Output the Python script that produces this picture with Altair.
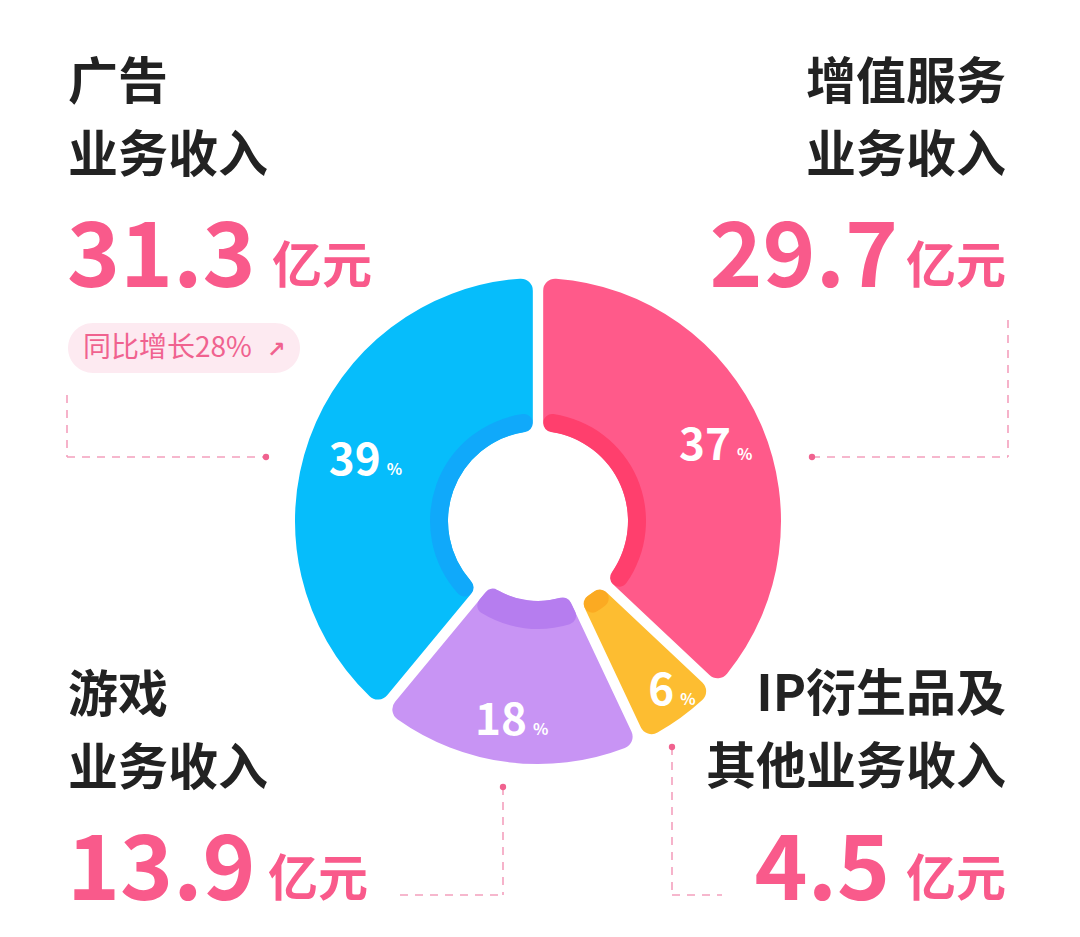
import altair as alt
import pandas as pd

# donut slices, clockwise from 12 o'clock
segments = ["增值服务", "IP衍生品及其他", "游戏", "广告"]
shares = [37, 6, 18, 39]
revenue = [29.7, 4.5, 13.9, 31.3]
titles = [["增值服务", "业务收入"], ["IP衍生品及", "其他业务收入"], ["游戏", "业务收入"], ["广告", "业务收入"]]
growth_text = "同比增长28%"
unit = "亿元"

main_colors = ["#FF5A8A", "#FDBD31", "#C894F4", "#06BDFB"]
band_colors = ["#FF3F6D", "#FBAA22", "#B67DEF", "#10A9FA"]

FONT = "Noto Sans CJK SC"
PINK = "#F95A8B"
INK = "#222222"
DASH = "#F4A0BD"

W, H = 1064, 921
CX, CY = 530, 513  # donut centre (view coords)


def P(v):
    # page pixel -> view pixel (8px page margin)
    return v - 8


df = pd.DataFrame({"name": segments, "share": shares, "rank": list(range(len(segments)))})
one = pd.DataFrame({"k": [0]})

base = alt.Chart(df).transform_calculate(
    r_out="243",
    r_band="108",
    r_in="datum.name === '游戏' ? 80 : 90",
    r_lab="{'增值服务': 195, 'IP衍生品及其他': 208, '游戏': 200, '广告': 182}[datum.name]",
)

theta_scale = alt.Scale(domain=[0, 100])
theta = alt.Theta("share:Q", stack=True, scale=theta_scale)
order = alt.Order("rank:Q")

arcs = base.mark_arc(cornerRadius=12, padAngle=0.04).encode(
    theta=theta,
    order=order,
    radius=alt.Radius("r_out:Q", scale=None),
    radius2=alt.Radius2("r_in:Q"),
    color=alt.Color("name:N", scale=alt.Scale(domain=segments, range=main_colors), legend=None),
    x=alt.value(CX),
    y=alt.value(CY),
)

band = base.mark_arc(cornerRadius=9, padAngle=0.074).encode(
    theta=theta,
    order=order,
    radius=alt.Radius("r_band:Q", scale=None),
    radius2=alt.Radius2("r_in:Q"),
    color=alt.Color("name:N", scale=alt.Scale(domain=segments, range=band_colors), legend=None),
    x=alt.value(CX),
    y=alt.value(CY),
)

# label angle = middle of each slice
labels = base.transform_window(
    cum="sum(share)", sort=[alt.SortField("rank")], frame=[None, 0]
).transform_calculate(mid="datum.cum - datum.share / 2")

num = labels.mark_text(
    font=FONT, fontSize=44, fontWeight="bold", color="white",
    align="right", baseline="alphabetic", dx=14, dy=16,
).encode(
    theta=alt.Theta("mid:Q", scale=theta_scale),
    radius=alt.Radius("r_lab:Q", scale=None),
    text=alt.Text("share:Q"),
    x=alt.value(CX),
    y=alt.value(CY),
)

pct = labels.mark_text(
    font=FONT, fontSize=16, fontWeight="bold", color="white",
    align="left", baseline="alphabetic", dx=20, dy=16,
).encode(
    theta=alt.Theta("mid:Q", scale=theta_scale),
    radius=alt.Radius("r_lab:Q", scale=None),
    text=alt.value("%"),
    x=alt.value(CX),
    y=alt.value(CY),
)


def note(text, x, y, size, color=INK, weight="bold", align="left", baseline="alphabetic", font=FONT):
    return alt.Chart(one).mark_text(
        font=font, fontSize=size, fontWeight=weight, color=color,
        align=align, baseline=baseline, lineHeight=73,
    ).encode(x=alt.value(P(x)), y=alt.value(P(y)), text=alt.value(text))


def vline(x, y1, y2):
    return alt.Chart(one).mark_rule(color=DASH, strokeWidth=1.6, strokeDash=[8, 7]).encode(
        x=alt.value(P(x)), y=alt.value(P(y1)), y2=alt.value(P(y2))
    )


def hline(x1, x2, y):
    return alt.Chart(one).mark_rule(color=DASH, strokeWidth=1.6, strokeDash=[8, 7]).encode(
        x=alt.value(P(x1)), x2=alt.value(P(x2)), y=alt.value(P(y))
    )


def dot(x, y):
    return alt.Chart(one).mark_circle(color="#F0628F", opacity=1, size=40).encode(
        x=alt.value(P(x)), y=alt.value(P(y))
    )


# 0 增值服务 (top right), 1 IP (bottom right), 2 游戏 (bottom left), 3 广告 (top left)
notes = [
    # top left
    note(titles[3], 68, 99, 50),
    note(f"{revenue[3]}", 67, 287, 90, PINK),
    note(unit, 272, 283, 50, PINK),
    alt.Chart(one).mark_rect(color="#FDEAF1", cornerRadius=25).encode(
        x=alt.value(P(68)), x2=alt.value(P(300)), y=alt.value(P(323)), y2=alt.value(P(373))
    ),
    note(growth_text, 83, 349, 28, "#F0628F", 400, baseline="middle"),
    note("↗", 267, 350, 22, "#F0628F", "bold", baseline="middle", font="DejaVu Sans"),
    vline(67, 395, 457), hline(67, 266, 457), dot(266, 457),
    # top right
    note(titles[0], 1006, 99, 50, align="right"),
    note(f"{revenue[0]}", 898, 287, 90, PINK, align="right"),
    note(unit, 1006, 283, 50, PINK, align="right"),
    vline(1008, 320, 457), hline(812, 1008, 457), dot(812, 457),
    # bottom left
    note(titles[2], 68, 712, 50),
    note(f"{revenue[2]}", 67, 900, 90, PINK),
    note(unit, 268, 896, 50, PINK),
    vline(503, 787, 895), hline(400, 503, 895), dot(503, 787),
    # bottom right
    note(titles[1], 1006, 711, 50, align="right"),
    note(f"{revenue[1]}", 890, 900, 90, PINK, align="right"),
    note(unit, 1006, 896, 50, PINK, align="right"),
    vline(672, 747, 895), hline(672, 722, 895), dot(672, 747),
]

chart = alt.layer(arcs, band, num, pct, *notes).resolve_scale(
    color="independent"
).properties(
    width=W, height=H, padding=0, autosize=alt.AutoSizeParams(type="none"),
    background="white",
).configure_view(stroke=None)

chart.save("out.html", embed_options={"renderer": "svg", "actions": False})
